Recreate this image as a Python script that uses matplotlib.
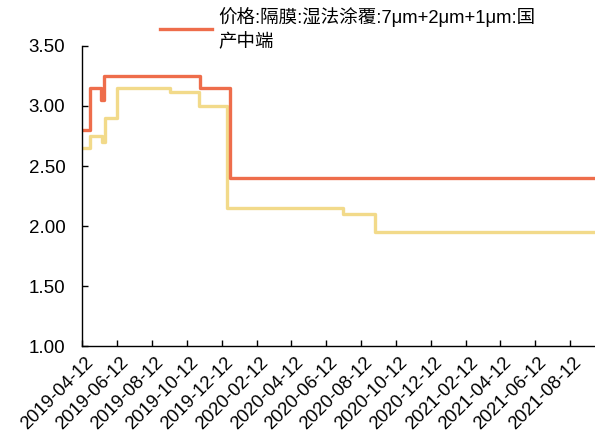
import matplotlib
matplotlib.use("Agg")
import matplotlib.pyplot as plt
import matplotlib.transforms as mtransforms
import pandas as pd

plt.rcParams['font.family'] = ['Liberation Sans', 'Noto Sans CJK SC', 'DejaVu Sans']

# Orange series: change points (date, value)
orange_dates = ["2019-04-12", "2019-04-26", "2019-05-15", "2019-05-20", "2019-11-04",
                "2019-12-21", "2019-12-26", "2021-09-25"]
orange_vals = [2.80, 3.15, 3.05, 3.25, 3.15, 3.15, 2.40, 2.40]

# Yellow series
yellow_dates = ["2019-04-12", "2019-04-26", "2019-05-16", "2019-05-22", "2019-06-12",
                "2019-09-13", "2019-11-03", "2019-12-21", "2019-12-22", "2020-07-11",
                "2020-09-05", "2021-09-25"]
yellow_vals = [2.65, 2.75, 2.70, 2.90, 3.15, 3.12, 3.00, 3.00, 2.15, 2.10, 1.95, 1.95]

tick_labels = ["2019-04-12", "2019-06-12", "2019-08-12", "2019-10-12", "2019-12-12",
               "2020-02-12", "2020-04-12", "2020-06-12", "2020-08-12", "2020-10-12",
               "2020-12-12", "2021-02-12", "2021-04-12", "2021-06-12", "2021-08-12"]
y_ticks = [1.00, 1.50, 2.00, 2.50, 3.00, 3.50]

legend_label = "价格:隔膜:湿法涂覆:7μm+2μm+1μm:国\n产中端"

fig = plt.figure(figsize=(5.95, 4.38), dpi=100)
ax = fig.add_axes([0.138, 0.21, 0.862, 0.685])

od = pd.to_datetime(orange_dates)
yd = pd.to_datetime(yellow_dates)
ax.plot(yd, yellow_vals, drawstyle='steps-post', color='#F2DA8A', lw=2.4)
line_o, = ax.plot(od, orange_vals, drawstyle='steps-post', color='#EE6D4B', lw=2.4)

ax.set_xlim(pd.Timestamp("2019-04-12"), pd.Timestamp("2021-09-25"))
ax.set_ylim(1.0, 3.5)
ax.set_yticks(y_ticks)
ax.set_yticklabels([f"{v:.2f}" for v in y_ticks], fontsize=13.5)
ax.set_xticks(pd.to_datetime(tick_labels))
ax.set_xticklabels(tick_labels, rotation=45, ha='right', va='top', rotation_mode='anchor', fontsize=13.3)
ax.tick_params(axis='both', direction='in', length=4, width=1, color='black')
ax.tick_params(axis='x', pad=6)
ax.tick_params(axis='y', pad=12)
offset = mtransforms.ScaledTranslation(3 / 100, 0, fig.dpi_scale_trans)
for lab in ax.get_xticklabels():
    lab.set_transform(lab.get_transform() + offset)
for s in ['top', 'right']:
    ax.spines[s].set_visible(False)
for s in ['left', 'bottom']:
    ax.spines[s].set_color('black')
    ax.spines[s].set_linewidth(1.0)

fig.legend([line_o], [legend_label], loc='upper left', bbox_to_anchor=(0.257, 1.0),
           frameon=False, fontsize=13.3, handlelength=2.8, handletextpad=0.35,
           borderaxespad=0)
leg = fig.legends[0]
for t in leg.get_texts():
    t.set_linespacing(1.45)

fig.savefig("out.png", dpi=100)
